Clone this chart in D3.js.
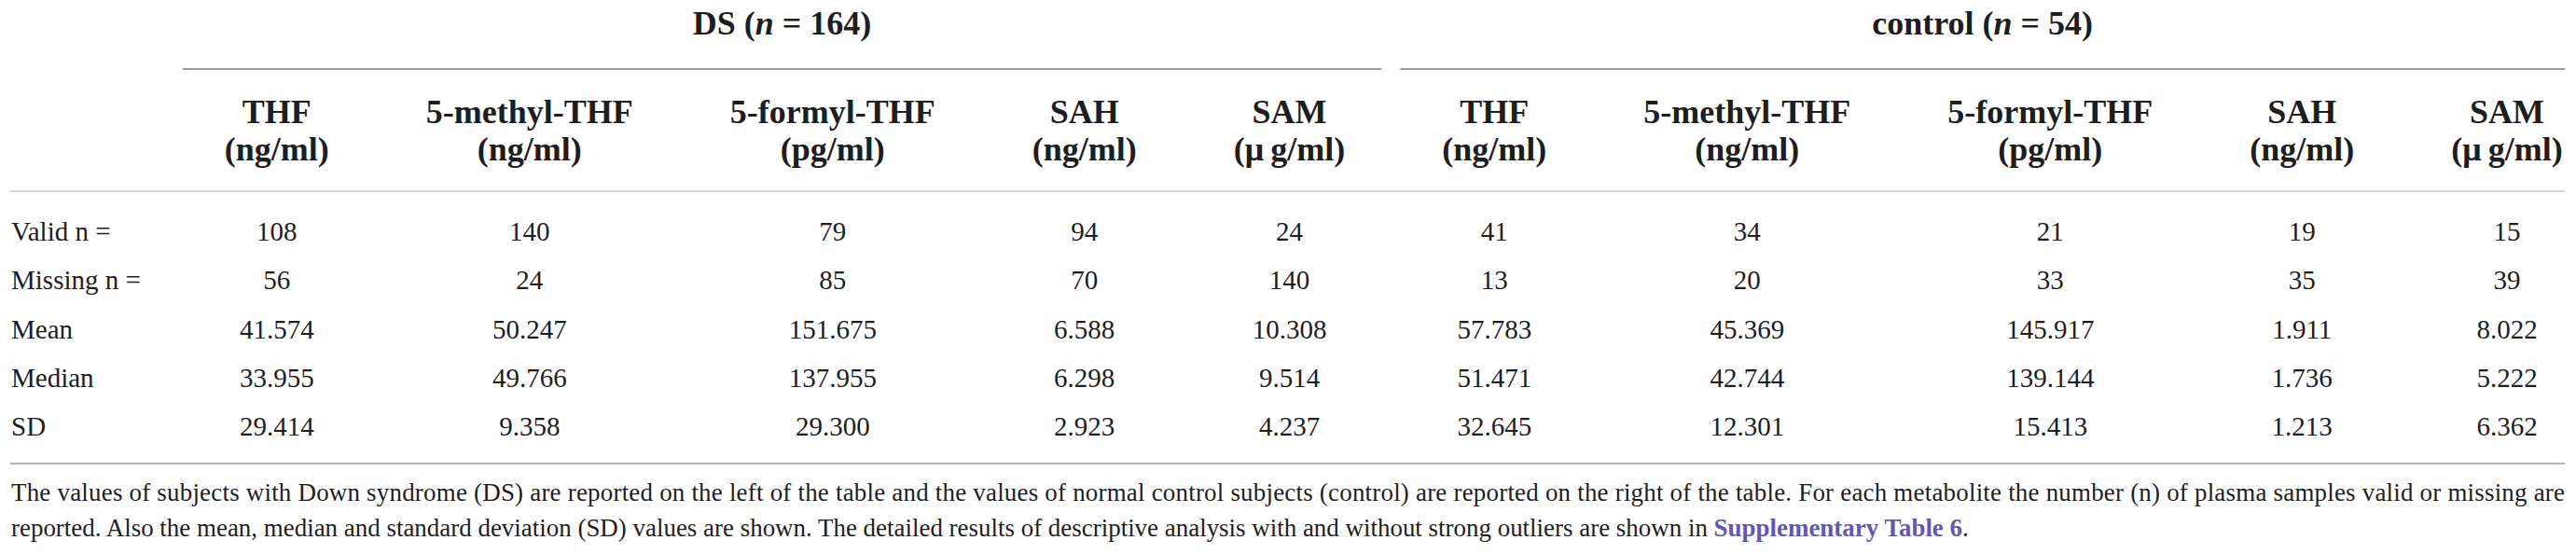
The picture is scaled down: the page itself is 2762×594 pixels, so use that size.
<!DOCTYPE html>
<html>
<head>
<meta charset="utf-8">
<script src="https://cdn.jsdelivr.net/npm/d3@7"></script>
<style>
  html, body { margin: 0; padding: 0; background: #fff; }
  svg { display: block; }
</style>
</head>
<body>
<svg id="chart"></svg>
<script>
// table content
const groups = [
    { name: 'DS', n: 164 },
    { name: 'control', n: 54 }
];
const metabolites = ['THF', '5-methyl-THF', '5-formyl-THF', 'SAH', 'SAM'];
const units = ['(ng/ml)', '(ng/ml)', '(pg/ml)', '(ng/ml)', '(\u03bc\u2009g/ml)'];
const rowLabels = ['Valid n =', 'Missing n =', 'Mean', 'Median', 'SD'];

const dsValid = [108, 140, 79, 94, 24];
const dsMissing = [56, 24, 85, 70, 140];
const dsMean = [41.574, 50.247, 151.675, 6.588, 10.308];
const dsMedian = [33.955, 49.766, 137.955, 6.298, 9.514];
const dsSD = [29.414, 9.358, 29.300, 2.923, 4.237];

const ctlValid = [41, 34, 21, 19, 15];
const ctlMissing = [13, 20, 33, 35, 39];
const ctlMean = [57.783, 45.369, 145.917, 1.911, 8.022];
const ctlMedian = [51.471, 42.744, 139.144, 1.736, 5.222];
const ctlSD = [32.645, 12.301, 15.413, 1.213, 6.362];

const captionLine1 = 'The values of subjects with Down syndrome (DS) are reported on the left of the table and the values of normal control subjects (control) are reported on the right of the table. For each metabolite the number (n) of plasma samples valid or missing are';
const captionLine2 = 'reported. Also the mean, median and standard deviation (SD) values are shown. The detailed results of descriptive analysis with and without strong outliers are shown in ';
const captionLink = 'Supplementary Table 6';

const width = 2762, height = 594;
const serif = '"Liberation Serif", "Times New Roman", serif';
const ink = '#1e1e1e';
const bodySize = 29, headSize = 36;

const svg = d3.select('#chart')
    .attr('width', width)
    .attr('height', height)
    .style('font-family', serif);

svg.append('rect').attr('width', width).attr('height', height).attr('fill', '#fff');

// measure a string in a given style
function measure(txt, size, weight) {
    const t = svg.append('text')
        .attr('font-size', size)
        .attr('font-weight', weight || 'normal')
        .text(txt);
    const w = t.node().getComputedTextLength();
    t.remove();
    return w;
}

const fmtCount = d3.format('d');
const fmtStat = d3.format('.3f');
const rowFormats = [fmtCount, fmtCount, fmtStat, fmtStat, fmtStat];
const groupRows = [
    [dsValid, dsMissing, dsMean, dsMedian, dsSD],
    [ctlValid, ctlMissing, ctlMean, ctlMedian, ctlSD]
];

// build column list: group x metabolite
const columns = [];
groups.forEach((g, gi) => {
    metabolites.forEach((m, mi) => {
        columns.push({
            group: gi,
            name: m,
            unit: units[mi],
            values: groupRows[gi].map((arr, ri) => rowFormats[ri](arr[mi]))
        });
    });
});

// auto layout like an html table: content width + padding
const left = 12, right = width - 12;
const labelPad = 38, colPad = 104;
const labelW = d3.max(rowLabels, d => measure(d, bodySize));
let cursor = left + labelW + labelPad;
columns.forEach(c => {
    const w = Math.max(
        measure(c.name, headSize, 'bold'),
        measure(c.unit, headSize, 'bold'),
        d3.max(c.values, v => measure(v, bodySize))
    ) + colPad;
    c.x0 = cursor;
    c.x1 = cursor + w;
    c.cx = cursor + w / 2;
    cursor += w;
});

// vertical layout
const y = d3.scalePoint().domain(rowLabels).range([258, 467]);
const yTitle = 37, yGroupRule = 74, yHead1 = 132, yHead2 = 172, yHeadRule = 205, yBottomRule = 497;
const yCap1 = 537, yCap2 = 575;

// group titles and their rules
const groupSpans = groups.map((g, gi) => {
    const cols = columns.filter(c => c.group === gi);
    const x0 = cols[0].x0 + 7;
    const x1 = Math.min(cols[cols.length - 1].x1 - 13, right);
    return { g, x0, x1 };
});

svg.append('g').selectAll('line')
    .data(groupSpans)
    .join('line')
    .attr('x1', d => d.x0)
    .attr('x2', d => d.x1)
    .attr('y1', yGroupRule)
    .attr('y2', yGroupRule)
    .attr('stroke', '#9a9a9a')
    .attr('stroke-width', 2);

const titles = svg.append('g').selectAll('text')
    .data(groupSpans)
    .join('text')
    .attr('x', d => (d.x0 + d.x1) / 2)
    .attr('y', yTitle)
    .attr('text-anchor', 'middle')
    .attr('font-size', headSize)
    .attr('font-weight', 'bold')
    .attr('fill', ink);
titles.append('tspan').text(d => d.g.name + ' (');
titles.append('tspan').attr('font-style', 'italic').text('n');
titles.append('tspan').text(d => ' = ' + d.g.n + ')');

// column headers
const heads = svg.append('g').selectAll('text')
    .data(columns)
    .join('text')
    .attr('text-anchor', 'middle')
    .attr('font-size', headSize)
    .attr('font-weight', 'bold')
    .attr('fill', ink);
heads.append('tspan').attr('x', d => d.cx).attr('y', yHead1).text(d => d.name);
heads.append('tspan').attr('x', d => d.cx).attr('y', yHead2).text(d => d.unit);

// full-width rules
svg.append('g').selectAll('line')
    .data([{ y: yHeadRule, c: '#d6d6d6' }, { y: yBottomRule, c: '#b4b4b4' }])
    .join('line')
    .attr('x1', left - 1)
    .attr('x2', right)
    .attr('y1', d => d.y)
    .attr('y2', d => d.y)
    .attr('stroke', d => d.c)
    .attr('stroke-width', 2);

// row labels
svg.append('g').selectAll('text')
    .data(rowLabels)
    .join('text')
    .attr('x', left)
    .attr('y', d => y(d))
    .attr('font-size', bodySize)
    .attr('fill', ink)
    .text(d => d);

// cell values
const cells = columns.flatMap(c => c.values.map((v, ri) => ({ v, cx: c.cx, row: rowLabels[ri] })));
svg.append('g').selectAll('text')
    .data(cells)
    .join('text')
    .attr('x', d => d.cx)
    .attr('y', d => y(d.row))
    .attr('text-anchor', 'middle')
    .attr('font-size', bodySize)
    .attr('fill', ink)
    .text(d => d.v);

// caption: the second (unjustified) line sets the size, the first line is justified
const cap2End = 2112;
const cap2Natural = measure(captionLine2 + '.', bodySize) + measure(captionLink, bodySize, 'bold');
const capSize = bodySize * (cap2End - left) / cap2Natural;

svg.append('text')
    .attr('x', left)
    .attr('y', yCap1)
    .attr('font-size', capSize)
    .attr('fill', ink)
    .attr('textLength', right - left)
    .attr('lengthAdjust', 'spacing')
    .text(captionLine1);

const cap2 = svg.append('text')
    .attr('x', left)
    .attr('y', yCap2)
    .attr('font-size', capSize)
    .attr('fill', ink);
cap2.append('tspan').text(captionLine2);
cap2.append('tspan').attr('font-weight', 'bold').attr('fill', '#6357b5').text(captionLink);
cap2.append('tspan').text('.');
</script>
</body>
</html>
